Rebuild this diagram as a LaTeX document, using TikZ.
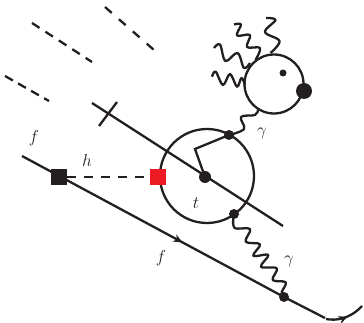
\documentclass[tikz,border=0pt]{standalone}
\usetikzlibrary{decorations.markings,arrows.meta}
\definecolor{ink}{HTML}{231F20}
\definecolor{redbox}{HTML}{ED1C24}
\tikzset{
  x=1pt,y=-1pt,
  line/.style={draw=ink,line width=2.3pt},
  dashline/.style={draw=ink,line width=2.3pt,dash pattern=on 9pt off #1},
  wave/.style={draw=ink,line width=2.3pt,line join=round,smooth,tension=0.6},
  vertex/.style={circle,fill=ink,inner sep=0pt,minimum size=#1},
  sq/.style={rectangle,fill=#1,inner sep=0pt,minimum size=16pt},
  lab/.style={text=ink,inner sep=0pt,font=\fontsize{18}{18}\selectfont},
  flow/.style={postaction={decorate},decoration={markings,mark=at position #1 with {\arrow[ink]{Stealth[length=9pt,width=8pt]}}}}
}
\begin{document}
\begin{tikzpicture}
\useasboundingbox (0,0) rectangle (364,323);
% free ends
\coordinate (d1a) at (105,7);  \coordinate (d1b) at (154,50);
\coordinate (d2a) at (32,23);  \coordinate (d2b) at (92,62);
\coordinate (d3a) at (5,76);   \coordinate (d3b) at (49,101);
\coordinate (la) at (92,103);  \coordinate (lb) at (283,226);
\coordinate (ta) at (117,102); \coordinate (tb) at (99,126);
\coordinate (fa) at (22,156);  \coordinate (fb) at (325,318);
\coordinate (cs) at (326,319); \coordinate (cb) at (362,306); \coordinate (knee) at (195,149);
\draw[dashline=9.5pt] (d1a) -- (d1b);
\draw[dashline=7pt] (d2a) -- (d2b);
\draw[dashline=6pt] (d3a) -- (d3b);
\draw[line] (la) -- (lb);
\draw[line] (ta) -- (tb);
% loops
\node[circle,line,minimum size=94pt,inner sep=0pt] (big) at (207,176) {};
\node[circle,line,minimum size=59pt,inner sep=0pt] (small) at (274,84) {};
% vertices
\node[sq=ink] (bs) at (59,177) {};
\node[sq=redbox] (rs) at (158,177) {};
\node[vertex=12pt] (vc) at (205,177) {};
\node[vertex=10pt] (vt) at (229,135) {};
\node[vertex=10pt] (vb) at (234,214) {};
\node[vertex=10pt] (vf) at (284,297) {};
\node[vertex=16pt] (vs) at (304,91) {};
\node[vertex=7pt] (vi) at (283,73) {};
% connectors
\draw[line,flow=0.53] (fa) -- (vf.center) -- (fb);
\draw[draw=ink,line width=2.6pt,dash pattern=on 9pt off 8pt] (bs) -- (rs);
\draw[line] (vc.center) -- (knee) -- (vt.center);
\draw[line,flow=0.55] (cs) .. controls (336,321) and (350,319) .. (cb);
\draw[wave] plot coordinates {(vb.center) (234.3,227.7) (250,229) (245.7,241.7) (260,244.3) (253.3,255.7) (268.3,255) (261,266.7) (276.7,268.3) (272.7,280) (285.7,282.3) (281.7,292.3) (vf.center)};
\draw[wave] plot coordinates {(vt.center) (244,129) (241,117) (255,115) (258,110)};
\draw[wave] plot coordinates {(212,76.7) (215.7,71.7) (223,85) (230,74) (237,86.7) (241.5,78) (245,85)};
\draw[wave] plot coordinates {(214,48) (220,44.5) (225.5,61) (237.5,53) (244,68) (250,63)};
\draw[wave] plot coordinates {(234,24.5) (241,24.5) (237,35.5) (250,35) (247,47) (260,48) (255.5,60)};
\draw[wave] plot coordinates {(266,18) (275.5,20) (265,32) (279.5,41) (270.5,53)};
% labels
\node[lab] (lf1) at (34,138) {$f$};
\node[lab] (lh) at (87,161) {$h$};
\node[lab] (lt) at (196,203) {$t$};
\node[lab] (lg1) at (262,133) {$\gamma$};
\node[lab] (lg2) at (289,261) {$\gamma$};
\node[lab] (lf2) at (161,258) {$f$};
\end{tikzpicture}
\end{document}
